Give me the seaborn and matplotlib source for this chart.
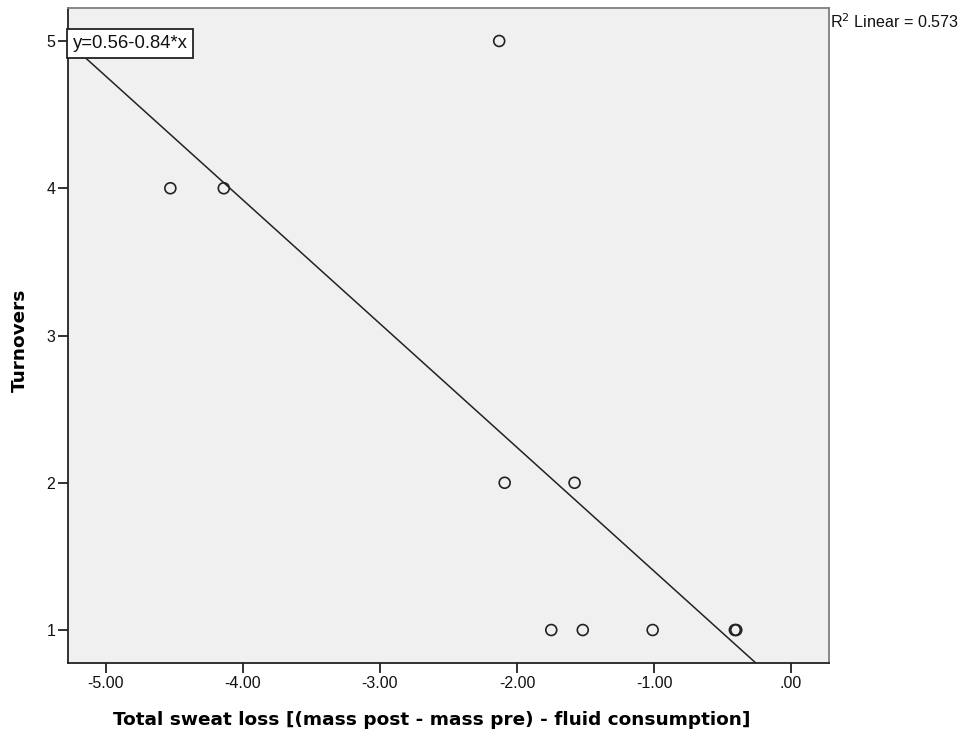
import matplotlib
matplotlib.use("Agg")
import matplotlib.pyplot as plt
import seaborn as sns
import numpy as np
import pandas as pd

# Data
sweat_loss = [-2.13, -4.53, -4.14, -2.09, -1.58, -1.75, -1.52, -1.01, -0.40, -0.41]
turnovers = [5, 4, 4, 2, 2, 1, 1, 1, 1, 1]
intercept = 0.56
slope = -0.84
r2 = 0.573

df = pd.DataFrame({"sweat": sweat_loss, "turnovers": turnovers})

sns.set_style("white")
plt.rcParams["font.family"] = ["Liberation Sans", "DejaVu Sans"]

fig = plt.figure(figsize=(9.7, 7.38), dpi=100)
ax = fig.add_axes([68 / 970, 1 - 663 / 738, (829 - 68) / 970, (663 - 8) / 738])
ax.set_facecolor("#F0F0F0")

sns.scatterplot(data=df, x="sweat", y="turnovers", ax=ax, s=62,
                facecolor="none", edgecolor="#222222", linewidth=1.2, zorder=3)

xlim = (-5.277, 0.277)
ylim = (0.776, 5.224)
ax.set_xlim(xlim)
ax.set_ylim(ylim)

# fit line over the whole x range
xs = np.array(xlim)
ax.plot(xs, intercept + slope * xs, color="#222222", linewidth=1.1, zorder=2)

ax.set_xticks([-5, -4, -3, -2, -1, 0])
ax.set_xticklabels(["-5.00", "-4.00", "-3.00", "-2.00", "-1.00", ".00"])
ax.set_yticks([1, 2, 3, 4, 5])
ax.tick_params(axis="both", direction="out", length=7.5, width=1.3,
               color="#222222", labelsize=11.5, labelcolor="#111111")
ax.tick_params(axis="x", pad=2)
ax.tick_params(axis="y", pad=1.5)
ax.tick_params(left=True, bottom=True)

for side in ["left", "bottom"]:
    ax.spines[side].set_color("#222222")
    ax.spines[side].set_linewidth(1.3)
for side in ["top", "right"]:
    ax.spines[side].set_color("#7f7f7f")
    ax.spines[side].set_linewidth(1.3)

ax.set_xlabel("")
ax.set_ylabel("")
fig.text(432 / 970, 1 - 720 / 738, "Total sweat loss [(mass post - mass pre) - fluid consumption]",
         ha="center", va="center", fontsize=13.3, fontweight="bold", family="DejaVu Sans",
         color="black")
fig.text(20 / 970, 1 - 340 / 738, "Turnovers", ha="center", va="center",
         rotation=90, fontsize=13.3, fontweight="bold", family="DejaVu Sans", color="black")

ax.text(0.006, 0.946, "y=%.2f-%.2f*x" % (intercept, -slope), transform=ax.transAxes,
        ha="left", va="center", fontsize=13.3, color="#111111", zorder=5,
        bbox=dict(boxstyle="square,pad=0.32", facecolor="white", edgecolor="#222222", linewidth=1.3))

fig.text(830 / 970, 1 - 22 / 738, "R$^2$ Linear = %.3f" % r2, ha="left", va="center",
         fontsize=11.6, color="#111111")

fig.savefig("out.png", dpi=100)
